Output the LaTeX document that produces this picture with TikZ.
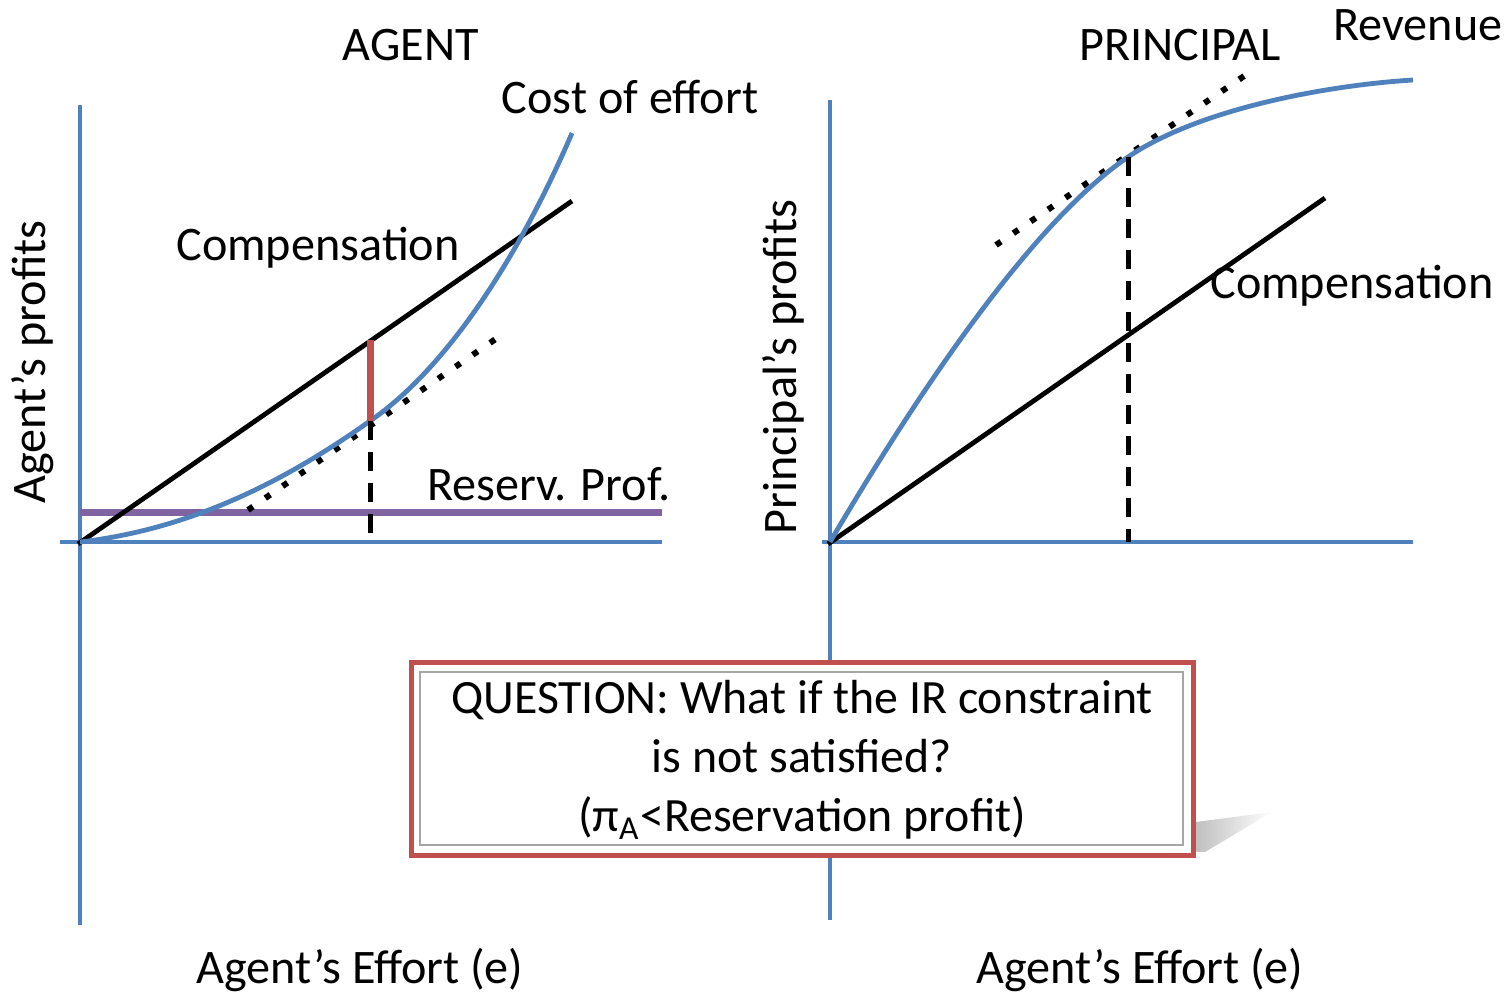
\documentclass[tikz,border=0pt]{standalone}
\usepackage{fontspec}
\setmainfont{Carlito}
\usetikzlibrary{fadings}
\definecolor{axblue}{HTML}{4F81BD}
\definecolor{redc}{HTML}{C0504D}
\definecolor{purp}{HTML}{8064A2}
\begin{document}
\begin{tikzpicture}[x=0.01cm,y=-0.01cm,
  axis/.style={axblue,line width=0.042cm},
  curve/.style={axblue,line width=0.048cm},
  blk/.style={black,line width=0.048cm},
  dotline/.style={black,line width=0.06cm,dash pattern=on 0.06cm off 0.15cm},
  dashline/.style={black,line width=0.05cm,dash pattern=on 0.19cm off 0.12cm},
  lbl/.style={font=\fontsize{13.7pt}{16pt}\selectfont,inner sep=0pt}]
\useasboundingbox (0,0) rectangle (1506,993);
% ---------- left plot ----------
\coordinate (lO) at (80,542);
\coordinate (lYt) at (80,105);
\coordinate (lYb) at (80,925);
\coordinate (lXl) at (60,542);
\coordinate (lXr) at (662,542);
\draw[axis] (lYt) -- (lYb);
\draw[axis] (lXl) -- (lXr);
\coordinate (rpL) at (80,512);
\coordinate (rpR) at (662,512);
\draw[purp,line width=0.07cm] (rpL) -- (rpR);
\coordinate (compS) at (78,544);
\coordinate (compE) at (572,201);
\draw[blk] (compS) -- (compE);
\coordinate (tanA) at (248,510);
\coordinate (tanB) at (500,336);
\draw[dotline] (tanA) -- (tanB);
\coordinate (eA) at (370,421);
\draw[curve] (lO) .. controls (200,528) and (295,474) .. (eA)
  .. controls (450,366) and (522,250) .. (572,133);
\coordinate (eC) at (370,340);
\coordinate (eB) at (370,544);
\draw[dashline] (eA) -- (eB);
\draw[redc,line width=0.07cm] (eC) -- (eA);
\node[lbl] (agent) at (411,45) {AGENT};
\node[lbl] (cost) at (630,97) {Cost of effort};
\node[lbl] (compL) at (318,248) {Compensation};
\node[lbl] (reserv) at (549,484) {Reserv. Prof.};
\node[lbl,rotate=90] (yL) at (33,362) {Agent’s profits};
\node[lbl] (xL) at (360,970) {Agent’s Effort (e)};
% ---------- right plot ----------
\coordinate (rO) at (830,542);
\coordinate (rYt) at (830,100);
\coordinate (rYb) at (830,920);
\coordinate (rXl) at (822,542);
\coordinate (rXr) at (1413,542);
\draw[axis] (rYt) -- (rYb);
\draw[axis] (rXl) -- (rXr);
\coordinate (rcS) at (828,544);
\coordinate (rcE) at (1325,198);
\draw[blk] (rcS) -- (rcE);
\coordinate (rtA) at (996,245);
\coordinate (rtB) at (1250,72);
\draw[dotline] (rtA) -- (rtB);
\coordinate (rdA) at (1128,157);
\draw[curve] (rO) .. controls (910,406) and (1028,225) .. (rdA)
  .. controls (1200,108) and (1330,85) .. (1413,80);
\coordinate (rdB) at (1128,542);
\draw[dashline] (rdA) -- (rdB);
\node[lbl] (principal) at (1180,45) {PRINCIPAL};
\node[lbl] (revenue) at (1418,25) {Revenue};
\node[lbl] (compR) at (1352,286) {Compensation};
\node[lbl,rotate=90] (yR) at (783,367) {Principal’s profits};
\node[lbl] (xR) at (1140,970) {Agent’s Effort (e)};
% ---------- question box ----------
\fill[black!40,path fading=east] (1150,850) -- (1196,822) -- (1272,812) -- (1205,852) -- cycle;
\node[draw=redc,line width=0.05cm,fill=white,minimum width=7.82cm,minimum height=1.93cm,inner sep=0pt] (qbox) at (802.5,759) {};
\draw[black!35,line width=0.015cm] (420,672) rectangle (1183,845);
\node[lbl,align=center,font=\fontsize{13.6pt}{16.8pt}\selectfont] (qtext) at (802,760) {QUESTION: What if the IR constraint\\is not satisfied?\\(π\textsubscript{A}<Reservation profit)};
\end{tikzpicture}
\end{document}
